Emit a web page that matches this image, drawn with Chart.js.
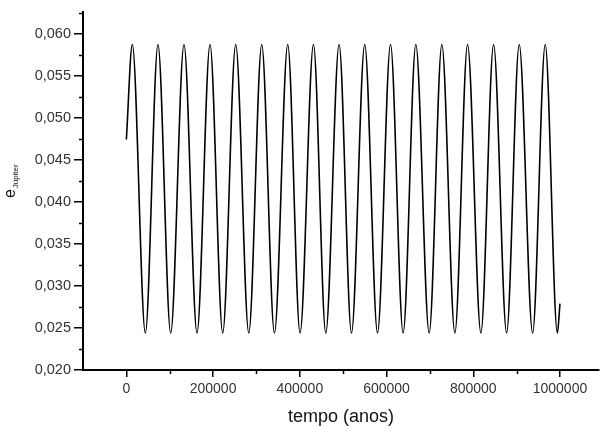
<!DOCTYPE html>
<html>
<head>
<meta charset="utf-8">
<script src="https://cdn.jsdelivr.net/npm/chart.js@4.4.1/dist/chart.umd.min.js"></script>
<style>
  html, body { margin: 0; padding: 0; background: #fff; overflow: hidden; }
  #wrap { width: 600px; height: 432px; }
</style>
</head>
<body>
<div id="wrap"><canvas id="chart"></canvas></div>
<script>
// turning points (years, eccentricity)
const tempo = [
  0, 13800, 43800, 72900, 102200, 132900, 162900, 192900, 222200, 252200,
  282300, 312200, 341500, 372200, 400600, 431500, 459900, 490600, 519200,
  549700, 579200, 609200, 638300, 667600, 698300, 727600, 757600, 786900,
  817600, 846900, 876900, 906000, 936900, 966000, 994000, 1000000
];
const eJupiter = [
  0.0474, 0.0587, 0.0244, 0.0587, 0.0244, 0.0587, 0.0244, 0.0587, 0.0244, 0.0587,
  0.0244, 0.0587, 0.0244, 0.0587, 0.0244, 0.0587, 0.0244, 0.0587, 0.0244,
  0.0587, 0.0244, 0.0587, 0.0244, 0.0587, 0.0244, 0.0587, 0.0244, 0.0587,
  0.0244, 0.0587, 0.0244, 0.0587, 0.0244, 0.0587, 0.0244, 0.0279
];
const xTicks = [0, 200000, 400000, 600000, 800000, 1000000];
const xMinor = [100000, 300000, 500000, 700000, 900000];
const yTicks = [0.020, 0.025, 0.030, 0.035, 0.040, 0.045, 0.050, 0.055, 0.060];
const yMinor = [0.0225, 0.0275, 0.0325, 0.0375, 0.0425, 0.0475, 0.0525, 0.0575, 0.0625];

const FONT = '"Liberation Sans", Arial, sans-serif';

// minor ticks + y axis title with subscript
const extras = {
  id: 'extras',
  afterDraw(chart) {
    const ctx = chart.ctx;
    const xs = chart.scales.x, ys = chart.scales.y;
    const area = chart.chartArea;
    ctx.save();
    ctx.strokeStyle = '#000';
    ctx.lineWidth = 1.5;
    ctx.beginPath();
    xMinor.forEach(v => {
      const px = Math.round(xs.getPixelForValue(v)) + 0.5;
      ctx.moveTo(px, area.bottom);
      ctx.lineTo(px, area.bottom + 4);
    });
    yMinor.forEach(v => {
      const py = Math.round(ys.getPixelForValue(v)) + 0.5;
      ctx.moveTo(area.left, py);
      ctx.lineTo(area.left - 4, py);
    });
    ctx.stroke();

    ctx.translate(15, 198);
    ctx.rotate(-Math.PI / 2);
    ctx.fillStyle = '#111';
    ctx.textAlign = 'left';
    ctx.textBaseline = 'alphabetic';
    ctx.font = '16px ' + FONT;
    ctx.fillText('e', 0, 0);
    const w = ctx.measureText('e').width;
    ctx.font = '8px ' + FONT;
    ctx.fillText('Júpiter', w + 0.8, 2.5);
    ctx.restore();
  }
};

const ctx = document.getElementById('chart');
new Chart(ctx, {
  type: 'line',
  data: {
    datasets: [{
      data: tempo.map((t, i) => ({ x: t, y: eJupiter[i] })),
      borderColor: '#000',
      borderWidth: 1.6,
      pointRadius: 0,
      fill: false,
      cubicInterpolationMode: 'monotone'
    }]
  },
  options: {
    responsive: true,
    maintainAspectRatio: false,
    animation: false,
    layout: { padding: { top: 6, right: 1, left: 0, bottom: 0 } },
    plugins: {
      legend: { display: false },
      tooltip: { enabled: false }
    },
    scales: {
      x: {
        type: 'linear',
        min: -100000,
        max: 1090000,
        afterBuildTicks: s => { s.ticks = xTicks.map(v => ({ value: v })); },
        afterFit: s => { s.height = 62; },
        grid: { display: true, drawOnChartArea: false, color: '#000', lineWidth: 1.5, tickLength: 7 },
        border: { display: true, color: '#000', width: 2 },
        ticks: {
          autoSkip: false,
          maxRotation: 0,
          padding: 4,
          color: '#333',
          font: { family: FONT, size: 14 },
          callback: v => String(v)
        },
        title: {
          display: true,
          text: 'tempo (anos)',
          color: '#111',
          font: { family: FONT, size: 18 },
          padding: { top: 0, bottom: 4 }
        }
      },
      y: {
        min: 0.020,
        max: 0.0626,
        afterBuildTicks: s => { s.ticks = yTicks.map(v => ({ value: v })); },
        afterFit: s => { s.width = 83; },
        grid: { display: true, drawOnChartArea: false, color: '#000', lineWidth: 1.5, tickLength: 9 },
        border: { display: true, color: '#000', width: 2 },
        ticks: {
          padding: 3,
          color: '#333',
          font: { family: FONT, size: 14.5 },
          callback: v => v.toFixed(3).replace('.', ',')
        }
      }
    }
  },
  plugins: [extras]
});
</script>
</body>
</html>
